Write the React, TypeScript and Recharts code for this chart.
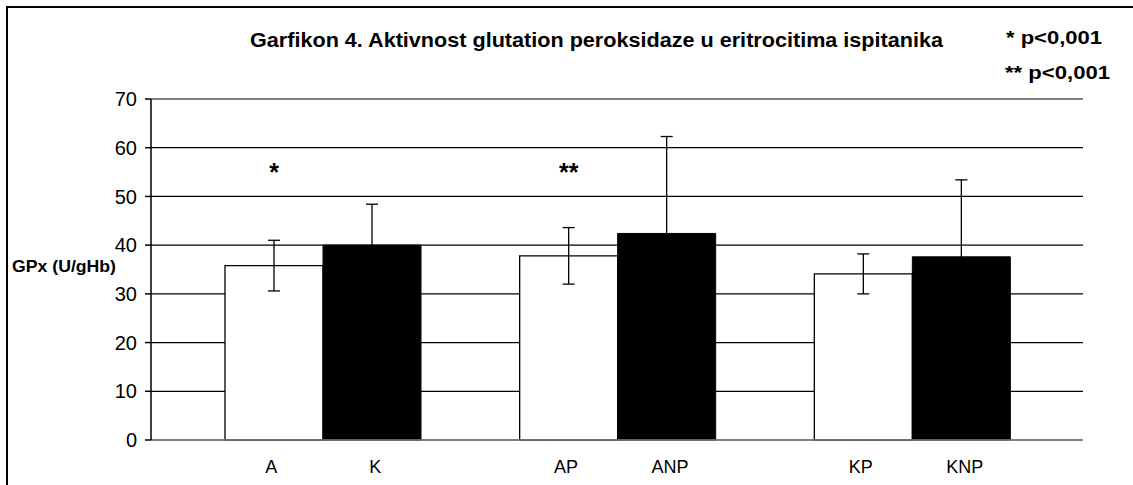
import React from 'react';
import { BarChart, Bar, XAxis, YAxis, CartesianGrid, ErrorBar, LabelList } from 'recharts';

const whiteLabels = ['A', 'AP', 'KP'];
const blackLabels = ['K', 'ANP', 'KNP'];
const whiteValues = [35.8, 37.8, 34.1];
const whiteErrors = [5.2, 5.8, 4.1];
const blackValues = [40.0, 42.4, 37.6];
const blackErrors = [8.4, 19.9, 15.8];
const significance = ['*', '**', ''];
const yTicks = [0, 10, 20, 30, 40, 50, 60, 70];

const title = 'Garfikon 4. Aktivnost glutation peroksidaze u eritrocitima ispitanika';
const pNotes = ['* p<0,001', '** p<0,001'];
const yLabel = 'GPx (U/gHb)';

const FONT = '"Liberation Sans", Arial, sans-serif';
const STAR_LEVEL = 55.7;

const data = whiteLabels.map((w, i) => ({
  group: w + '/' + blackLabels[i],
  white: whiteValues[i],
  whiteErr: whiteErrors[i],
  black: blackValues[i],
  blackErr: blackErrors[i],
  star: significance[i],
}));

const GroupTick = (props: any) => {
  const { x, y, index } = props;
  return (
    <g fontFamily={FONT} fontSize={18} fill="#000">
      <text x={x - 52} y={y + 33} textAnchor="middle">{whiteLabels[index]}</text>
      <text x={x + 52} y={y + 33} textAnchor="middle">{blackLabels[index]}</text>
    </g>
  );
};

const StarLabel = (props: any) => {
  const { x, y, width, height, value, index } = props;
  if (!value) return null;
  const base = y + height;
  const perUnit = height / whiteValues[index];
  const cy = base - STAR_LEVEL * perUnit;
  return (
    <text x={x + width / 2} y={cy + 12} textAnchor="middle" fontFamily={FONT} fontWeight="bold" fontSize={25} fill="#000">
      {value}
    </text>
  );
};

const App: React.FC = () => {
  return (
    <div style={{ position: 'absolute', left: 0, top: 0, width: 1133, height: 485, overflow: 'hidden', background: '#fff' }}>
      <div style={{ position: 'absolute', left: 6, top: 6, width: 1200, height: 600, border: '2px solid #000' }} />
      <div style={{ position: 'absolute', left: 0, top: 0 }}>
        <BarChart
          width={1133}
          height={485}
          data={data}
          margin={{ top: 99, right: 50, bottom: 15, left: 91 }}
          barGap={0}
          barSize={98}
        >
          <CartesianGrid vertical={false} stroke="#000" strokeWidth={1.2} />
          <XAxis
            dataKey="group"
            height={30}
            padding={{ left: 25, right: 23 }}
            axisLine={{ stroke: '#808080', strokeWidth: 1.5 }}
            tickLine={false}
            tickSize={0}
            tickMargin={0}
            tick={<GroupTick />}
            interval={0}
          />
          <XAxis xAxisId="top" dataKey="group" orientation="top" height={0} tick={false} tickLine={false} axisLine={{ stroke: '#808080', strokeWidth: 1.5 }} />
          <YAxis
            domain={[0, 70]}
            ticks={yTicks}
            width={60}
            axisLine={{ stroke: '#000', strokeWidth: 1.5 }}
            tickLine={{ stroke: '#000', strokeWidth: 1.5 }}
            tickSize={6}
            tickMargin={8}
            tick={{ fill: '#000', fontSize: 20, fontFamily: FONT }}
          />
          <YAxis yAxisId="right" orientation="right" width={0} domain={[0, 70]} tick={false} tickLine={false} axisLine={{ stroke: '#808080', strokeWidth: 1.5 }} />
          <Bar dataKey="white" fill="#fff" stroke="#000" strokeWidth={1.3} isAnimationActive={false}>
            <ErrorBar dataKey="whiteErr" direction="y" width={6} stroke="#000" strokeWidth={1.3} />
            <LabelList dataKey="star" content={<StarLabel />} />
          </Bar>
          <Bar dataKey="black" fill="#000" stroke="#000" strokeWidth={1} isAnimationActive={false}>
            <ErrorBar dataKey="blackErr" direction="y" width={6} stroke="#000" strokeWidth={1.3} />
          </Bar>
        </BarChart>
      </div>
      <svg width={1133} height={485} style={{ position: 'absolute', left: 0, top: 0, pointerEvents: 'none' }}>
        <g fontFamily={FONT} fontWeight="bold" fill="#000">
          <text x={250} y={47} fontSize={20} textLength={693} lengthAdjust="spacingAndGlyphs">{title}</text>
          <text x={1006} y={44} fontSize={19} textLength={96} lengthAdjust="spacingAndGlyphs">{pNotes[0]}</text>
          <text x={1005} y={79} fontSize={19} textLength={105} lengthAdjust="spacingAndGlyphs">{pNotes[1]}</text>
          <text x={12} y={272} fontSize={17} textLength={104} lengthAdjust="spacingAndGlyphs">{yLabel}</text>
        </g>
      </svg>
    </div>
  );
};

export default App;
